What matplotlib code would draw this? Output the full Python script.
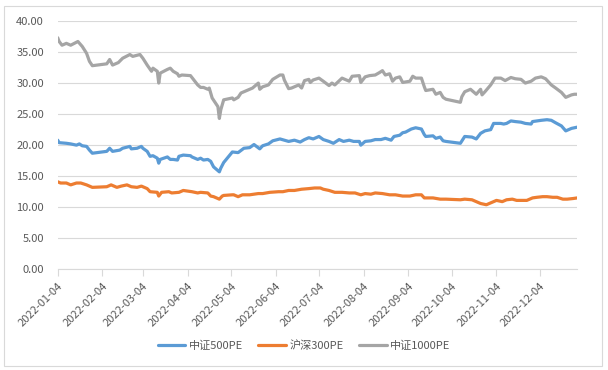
"""
pe_lines.py

Line chart of 2022 PE ratios for three A-share indices.
"""

import matplotlib
matplotlib.use("Agg")
import matplotlib.pyplot as plt
import pandas as pd
from matplotlib.patches import Rectangle
from matplotlib.ticker import FormatStrFormatter

plt.rcParams["font.family"] = ["Noto Sans CJK SC", "DejaVu Sans"]

# data (month-day, PE)
zz500_dates = ["01-04", "01-05", "01-10", "01-13", "01-17", "01-19", "01-21", "01-24", "01-26", "01-28",
               "02-07", "02-09", "02-11", "02-16", "02-18", "02-23", "02-24", "02-28", "03-03", "03-04",
               "03-07", "03-09", "03-11", "03-14", "03-15", "03-16", "03-21", "03-23", "03-25", "03-28",
               "03-29", "04-01", "04-06", "04-07", "04-11", "04-13", "04-15", "04-18", "04-20", "04-22",
               "04-26", "04-27", "04-29", "05-05", "05-09", "05-13", "05-17", "05-20", "05-24", "05-26",
               "05-30", "06-02", "06-07", "06-10", "06-13", "06-17", "06-21", "06-24", "06-27", "06-30",
               "07-04", "07-07", "07-11", "07-14", "07-18", "07-21", "07-25", "07-28", "08-01", "08-02",
               "08-05", "08-09", "08-12", "08-16", "08-19", "08-23", "08-25", "08-29", "08-31", "09-02",
               "09-06", "09-09", "09-13", "09-15", "09-16", "09-21", "09-23", "09-26", "09-28", "09-30",
               "10-10", "10-13", "10-18", "10-21", "10-24", "10-27", "10-31", "11-02", "11-07", "11-09",
               "11-11", "11-14", "11-17", "11-21", "11-24", "11-28", "11-29", "12-05", "12-09", "12-12",
               "12-15", "12-19", "12-22", "12-26", "12-30"]
zz500_pe = [20.8, 20.4, 20.3, 20.2, 20.0, 20.2, 19.9, 19.8, 19.2, 18.7,
            19.0, 19.5, 19.0, 19.2, 19.5, 19.8, 19.4, 19.5, 19.8, 19.5,
            19.0, 18.2, 18.3, 17.9, 17.1, 17.7, 18.1, 17.7, 17.7, 17.6,
            18.2, 18.4, 18.3, 18.1, 17.7, 17.9, 17.6, 17.7, 17.4, 16.5,
            15.7, 16.3, 17.2, 18.9, 18.8, 19.5, 19.6, 20.1, 19.4, 19.9,
            20.2, 20.7, 21.0, 20.8, 20.6, 20.8, 20.5, 20.9, 21.2, 21.0,
            21.4, 20.9, 20.6, 20.3, 20.9, 20.6, 20.8, 20.6, 20.6, 20.0,
            20.6, 20.7, 20.9, 20.9, 21.1, 20.8, 21.4, 21.6, 22.0, 22.1,
            22.6, 22.8, 22.6, 21.7, 21.4, 21.5, 21.1, 21.3, 20.7, 20.6,
            20.3, 21.4, 21.3, 21.0, 21.9, 22.3, 22.5, 23.5, 23.5, 23.4,
            23.5, 23.9, 23.8, 23.7, 23.5, 23.4, 23.8, 24.0, 24.1, 24.0,
            23.6, 23.1, 22.3, 22.7, 22.9]

hs300_dates = ["01-04", "01-06", "01-10", "01-13", "01-17", "01-20", "01-24", "01-26", "01-28", "02-07",
               "02-10", "02-14", "02-17", "02-21", "02-24", "02-28", "03-03", "03-07", "03-09", "03-14",
               "03-15", "03-17", "03-22", "03-24", "03-29", "04-01", "04-07", "04-11", "04-13", "04-18",
               "04-20", "04-22", "04-26", "04-28", "04-29", "05-05", "05-06", "05-09", "05-12", "05-17",
               "05-23", "05-26", "05-31", "06-06", "06-09", "06-13", "06-17", "06-22", "06-27", "07-01",
               "07-05", "07-07", "07-11", "07-15", "07-20", "07-25", "07-29", "08-02", "08-05", "08-09",
               "08-12", "08-17", "08-22", "08-26", "08-31", "09-05", "09-09", "09-13", "09-15", "09-21",
               "09-26", "09-30", "10-10", "10-13", "10-18", "10-21", "10-24", "10-28", "11-01", "11-04",
               "11-08", "11-11", "11-15", "11-18", "11-22", "11-25", "11-29", "12-02", "12-06", "12-09",
               "12-13", "12-16", "12-20", "12-23", "12-27", "12-30"]
hs300_pe = [14.1, 13.9, 13.9, 13.6, 13.9, 13.9, 13.6, 13.4, 13.2, 13.3,
            13.6, 13.2, 13.4, 13.6, 13.3, 13.2, 13.4, 13.0, 12.5, 12.4,
            11.8, 12.4, 12.5, 12.3, 12.4, 12.7, 12.5, 12.3, 12.4, 12.3,
            11.8, 11.7, 11.3, 11.8, 11.9, 12.0, 12.0, 11.7, 12.0, 12.0,
            12.2, 12.2, 12.4, 12.5, 12.5, 12.7, 12.7, 12.9, 13.0, 13.1,
            13.1, 12.9, 12.7, 12.4, 12.4, 12.3, 12.3, 12.0, 12.2, 12.1,
            12.3, 12.2, 12.0, 12.0, 11.8, 11.8, 12.0, 12.0, 11.5, 11.5,
            11.3, 11.3, 11.2, 11.3, 11.2, 10.9, 10.6, 10.4, 10.8, 11.1,
            10.9, 11.2, 11.3, 11.1, 11.1, 11.1, 11.5, 11.6, 11.7, 11.7,
            11.6, 11.6, 11.3, 11.3, 11.4, 11.5]

zz1000_dates = ["01-04", "01-05", "01-07", "01-10", "01-13", "01-18", "01-21", "01-24", "01-26", "01-28",
                "02-07", "02-09", "02-11", "02-15", "02-18", "02-23", "02-25", "03-02", "03-04", "03-07",
                "03-10", "03-11", "03-14", "03-15", "03-16", "03-21", "03-23", "03-25", "03-28", "03-29",
                "03-31", "04-06", "04-07", "04-11", "04-13", "04-15", "04-18", "04-19", "04-21", "04-25",
                "04-26", "04-27", "04-29", "05-05", "05-06", "05-09", "05-11", "05-16", "05-19", "05-23",
                "05-24", "05-26", "05-30", "06-02", "06-07", "06-09", "06-10", "06-13", "06-15", "06-20",
                "06-22", "06-24", "06-27", "06-28", "06-30", "07-04", "07-07", "07-11", "07-13", "07-15",
                "07-20", "07-25", "07-27", "08-01", "08-02", "08-05", "08-08", "08-12", "08-15", "08-17",
                "08-19", "08-22", "08-24", "08-26", "08-29", "08-31", "09-05", "09-07", "09-09", "09-13",
                "09-15", "09-16", "09-21", "09-23", "09-26", "09-28", "09-30", "10-10", "10-11", "10-13",
                "10-17", "10-19", "10-21", "10-24", "10-25", "10-27", "10-31", "11-03", "11-07", "11-10",
                "11-14", "11-17", "11-21", "11-24", "11-28", "12-01", "12-05", "12-08", "12-12", "12-15",
                "12-19", "12-22", "12-26", "12-28", "12-30"]
zz1000_pe = [37.3, 36.7, 36.1, 36.4, 36.1, 36.7, 35.9, 34.8, 33.5, 32.8,
             33.1, 33.8, 32.9, 33.3, 34.0, 34.6, 34.3, 34.6, 34.0, 32.9,
             31.9, 32.4, 31.9, 30.0, 31.6, 32.2, 32.4, 31.9, 31.5, 31.1,
             31.3, 31.2, 30.9, 29.7, 29.3, 29.3, 29.0, 29.2, 27.6, 26.2,
             24.3, 25.7, 27.3, 27.6, 27.3, 27.7, 28.4, 28.9, 29.2, 30.0,
             29.0, 29.4, 29.7, 30.6, 31.3, 31.3, 30.5, 29.1, 29.2, 29.7,
             29.2, 30.4, 30.6, 30.1, 30.5, 30.8, 30.3, 29.6, 30.0, 29.7,
             30.8, 30.3, 31.1, 31.2, 30.1, 31.0, 31.2, 31.3, 31.7, 32.0,
             31.3, 31.5, 30.3, 30.8, 31.0, 30.1, 30.3, 31.1, 30.8, 30.8,
             29.4, 28.8, 29.0, 28.2, 28.5, 27.7, 27.4, 26.9, 27.8, 28.6,
             29.0, 28.6, 28.2, 29.0, 28.1, 28.6, 29.7, 30.8, 30.8, 30.4,
             30.9, 30.7, 30.6, 30.0, 30.3, 30.8, 31.0, 30.7, 29.7, 29.2,
             28.5, 27.7, 28.1, 28.2, 28.2]

series_names = ["中证500PE", "沪深300PE", "中证1000PE"]
series_colors = ["#5B9BD5", "#ED7D31", "#A5A5A5"]
tick_dates = ["2022-%02d-04" % m for m in range(1, 13)]


def to_dates(md_list):
    return pd.to_datetime(["2022-" + md for md in md_list])


fig = plt.figure(figsize=(6.08, 3.70), dpi=100)
ax = fig.add_axes([57.7 / 608, 1 - 269.3 / 370, (577.3 - 57.7) / 608, (269.3 - 21) / 370])

# chart area border
fig.patches.append(Rectangle((4 / 608, 4 / 370), 598 / 608, 360 / 370, transform=fig.transFigure,
                             fill=False, edgecolor="#D9D9D9", linewidth=0.8))

all_series = [(zz500_dates, zz500_pe), (hs300_dates, hs300_pe), (zz1000_dates, zz1000_pe)]
for (d, v), name, col in zip(all_series, series_names, series_colors):
    ax.plot(to_dates(d), v, color=col, lw=2.3, label=name, solid_joinstyle="round", solid_capstyle="round")

ax.set_ylim(0, 40)
ax.set_yticks(range(0, 41, 5))
ax.yaxis.set_major_formatter(FormatStrFormatter("%.2f"))
ax.set_xlim(pd.Timestamp("2022-01-04"), pd.Timestamp("2022-12-30"))
ax.set_xticks(pd.to_datetime(tick_dates))
ax.set_xticklabels(tick_dates, rotation=45, ha="right", rotation_mode="anchor")

ax.grid(axis="y", color="#D9D9D9", lw=0.8)
ax.set_axisbelow(True)
for s in ["top", "right", "left"]:
    ax.spines[s].set_visible(False)
ax.spines["bottom"].set_color("#D9D9D9")
ax.spines["bottom"].set_linewidth(0.8)
ax.tick_params(axis="y", length=0, labelsize=8, labelcolor="#595959", pad=10)
ax.tick_params(axis="x", length=5, color="#D9D9D9", labelsize=8, labelcolor="#595959", pad=3)

fig.legend(loc="center", bbox_to_anchor=(304 / 608, 1 - 346 / 370), ncol=3, frameon=False,
           fontsize=8, labelcolor="#595959", handlelength=2.5, columnspacing=1.4, handletextpad=0.3)

fig.savefig("out.png", dpi=100)
